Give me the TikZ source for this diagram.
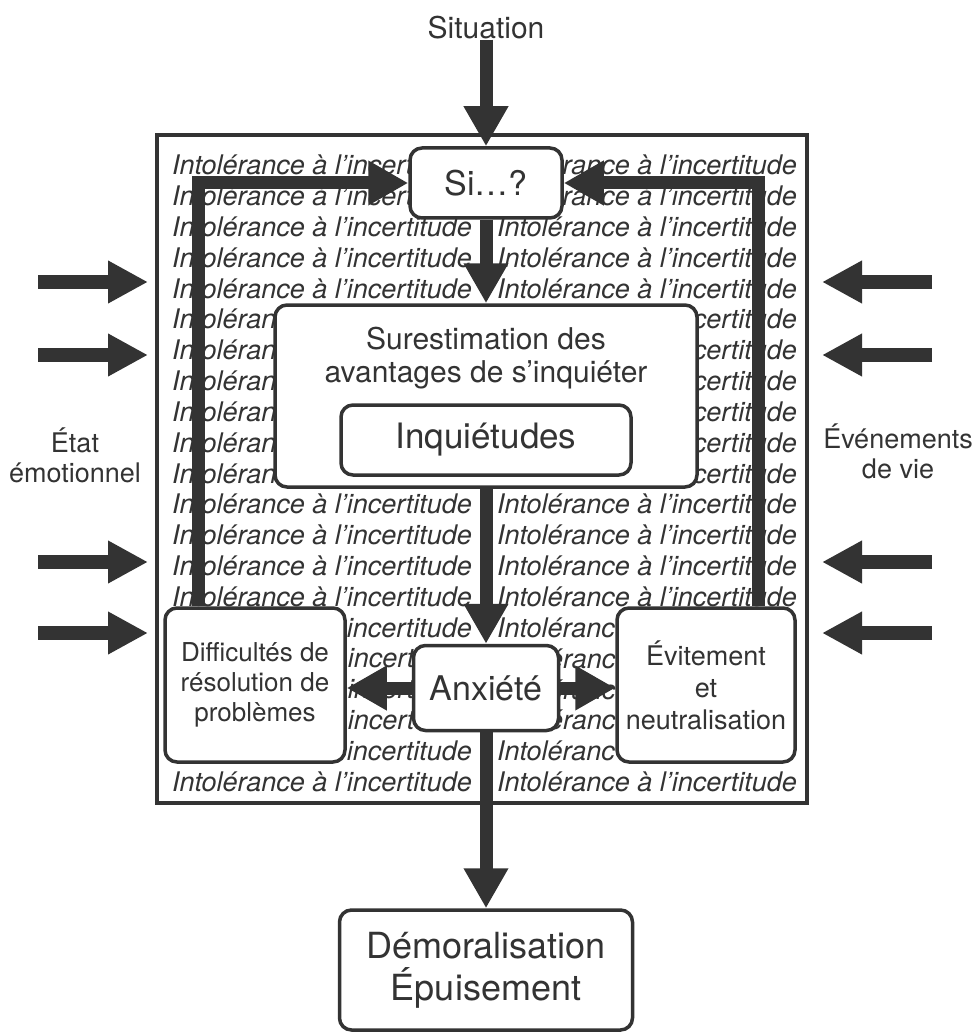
\documentclass[tikz,border=0pt]{standalone}
\usepackage{fontspec}
\setmainfont{TeX Gyre Heros}
\usetikzlibrary{arrows.meta}
\definecolor{ink}{gray}{0.2}
\newcommand{\setfs}[2]{\fontsize{#1}{#2}\selectfont}

\begin{document}
\begin{tikzpicture}[x=1pt,y=-1pt,
    box/.style={draw=ink, line width=3.5pt, rounded corners=12pt, fill=white, text=ink, inner sep=0pt, align=center},
    fat/.style={draw=ink, line width=13pt, -{Triangle[length=40pt,width=42pt]}},
    side/.style={draw=ink, line width=14pt, -{Triangle[length=40pt,width=40pt]}},
    lbl/.style={text=ink, align=center, inner sep=0pt},
    row/.style={text=ink, anchor=west, inner sep=0pt, font=\setfs{27}{30}\itshape},
    rowend/.style={row, anchor=east}]
    \useasboundingbox (0,0) rectangle (975,1032);

    % background text, only the parts that the boxes leave visible
    \foreach \k in {2,3,4,11,12,13,14,20}{
        \node[row] at (172,165+30.85*\k) {Intolérance à l'incertitude};
        \node[row] at (497,165+30.85*\k) {Intolérance à l'incertitude};
    }
    \foreach \k in {0,1}{
        \node[row] at (172,165+30.85*\k) {Intolérance à l'incert};
        \node[rowend] at (797.1,165+30.85*\k) {érance à l'incertitude};
    }
    \foreach \k in {5,...,10}{
        \node[row] at (172,165+30.85*\k) {Intoléran};
        \node[rowend] at (797.1,165+30.85*\k) {certitude};
    }
    \foreach \k in {15,19}{
        \node[rowend] at (472.1,165+30.85*\k) {incertitude};
        \node[row] at (497,165+30.85*\k) {Intoléranc};
    }
    \foreach \k in {16,17,18}{
        \node[row] at (347.6,165+30.85*\k) {incert};
        \node[row] at (548,165+30.85*\k) {éranc};
    }
    \draw[ink, line width=4pt] (157,135) rectangle (807,803);

    % boxes
    \node[lbl, font=\setfs{30}{34}] (sit) at (486,28) {Situation};
    \node[box, minimum width=152pt, minimum height=70pt, font=\setfs{34}{40}] (si) at (486,183) {Si\textellipsis?};
    \node[box, minimum width=422pt, minimum height=182pt] (sures) at (486,396) {};
    \node[lbl, font=\setfs{30}{33}] (surtxt) at (486,358) {Surestimation des\\avantages de s'inquiéter};
    \node[box, minimum width=290pt, minimum height=70pt, font=\setfs{35}{40}] (inq) at (486,440) {Inquiétudes};
    \node[box, minimum width=145pt, minimum height=85pt, font=\setfs{34}{40}] (anx) at (486,688) {Anxiété};
    \node[box, minimum width=180pt, minimum height=154pt, font=\setfs{26}{30}] (diff) at (255,685) {Difficultés de\\résolution de\\problèmes};
    \node[box, minimum width=178pt, minimum height=154pt, font=\setfs{27}{32}] (evit) at (706,685) {Évitement\\et\\neutralisation};
    \node[box, minimum width=293pt, minimum height=120pt, font=\setfs{36}{42}] (demo) at (486,970) {Démoralisation\\Épuisement};
    \node[lbl, font=\setfs{27}{30}] (etat) at (75,455) {État\\émotionnel};
    \node[lbl, font=\setfs{27}{30}] (even) at (898,451) {Événements\\de vie};

    % arrows
    \draw[fat] (sit) -- (si);
    \draw[fat] (si) -- (sures);
    \draw[fat] (sures) -- (anx);
    \draw[fat] (anx.west) -- (anx.west -| diff.east);
    \draw[fat] (anx.east) -- (anx.east -| evit.west);
    \draw[fat] (anx) -- (demo);
    \draw[fat] ([xshift=-57pt]diff.north) |- (si.west);
    \draw[fat] ([xshift=52pt]evit.north) |- (si.east);

    \foreach \y [count=\i] in {282,355,562,633}{
        \coordinate (l\i) at (38,\y);
        \coordinate (lt\i) at (148,\y);
        \coordinate (r\i) at (932,\y);
        \coordinate (rt\i) at (822,\y);
        \draw[side] (l\i) -- (lt\i);
        \draw[side] (r\i) -- (rt\i);
    }
\end{tikzpicture}
\end{document}
